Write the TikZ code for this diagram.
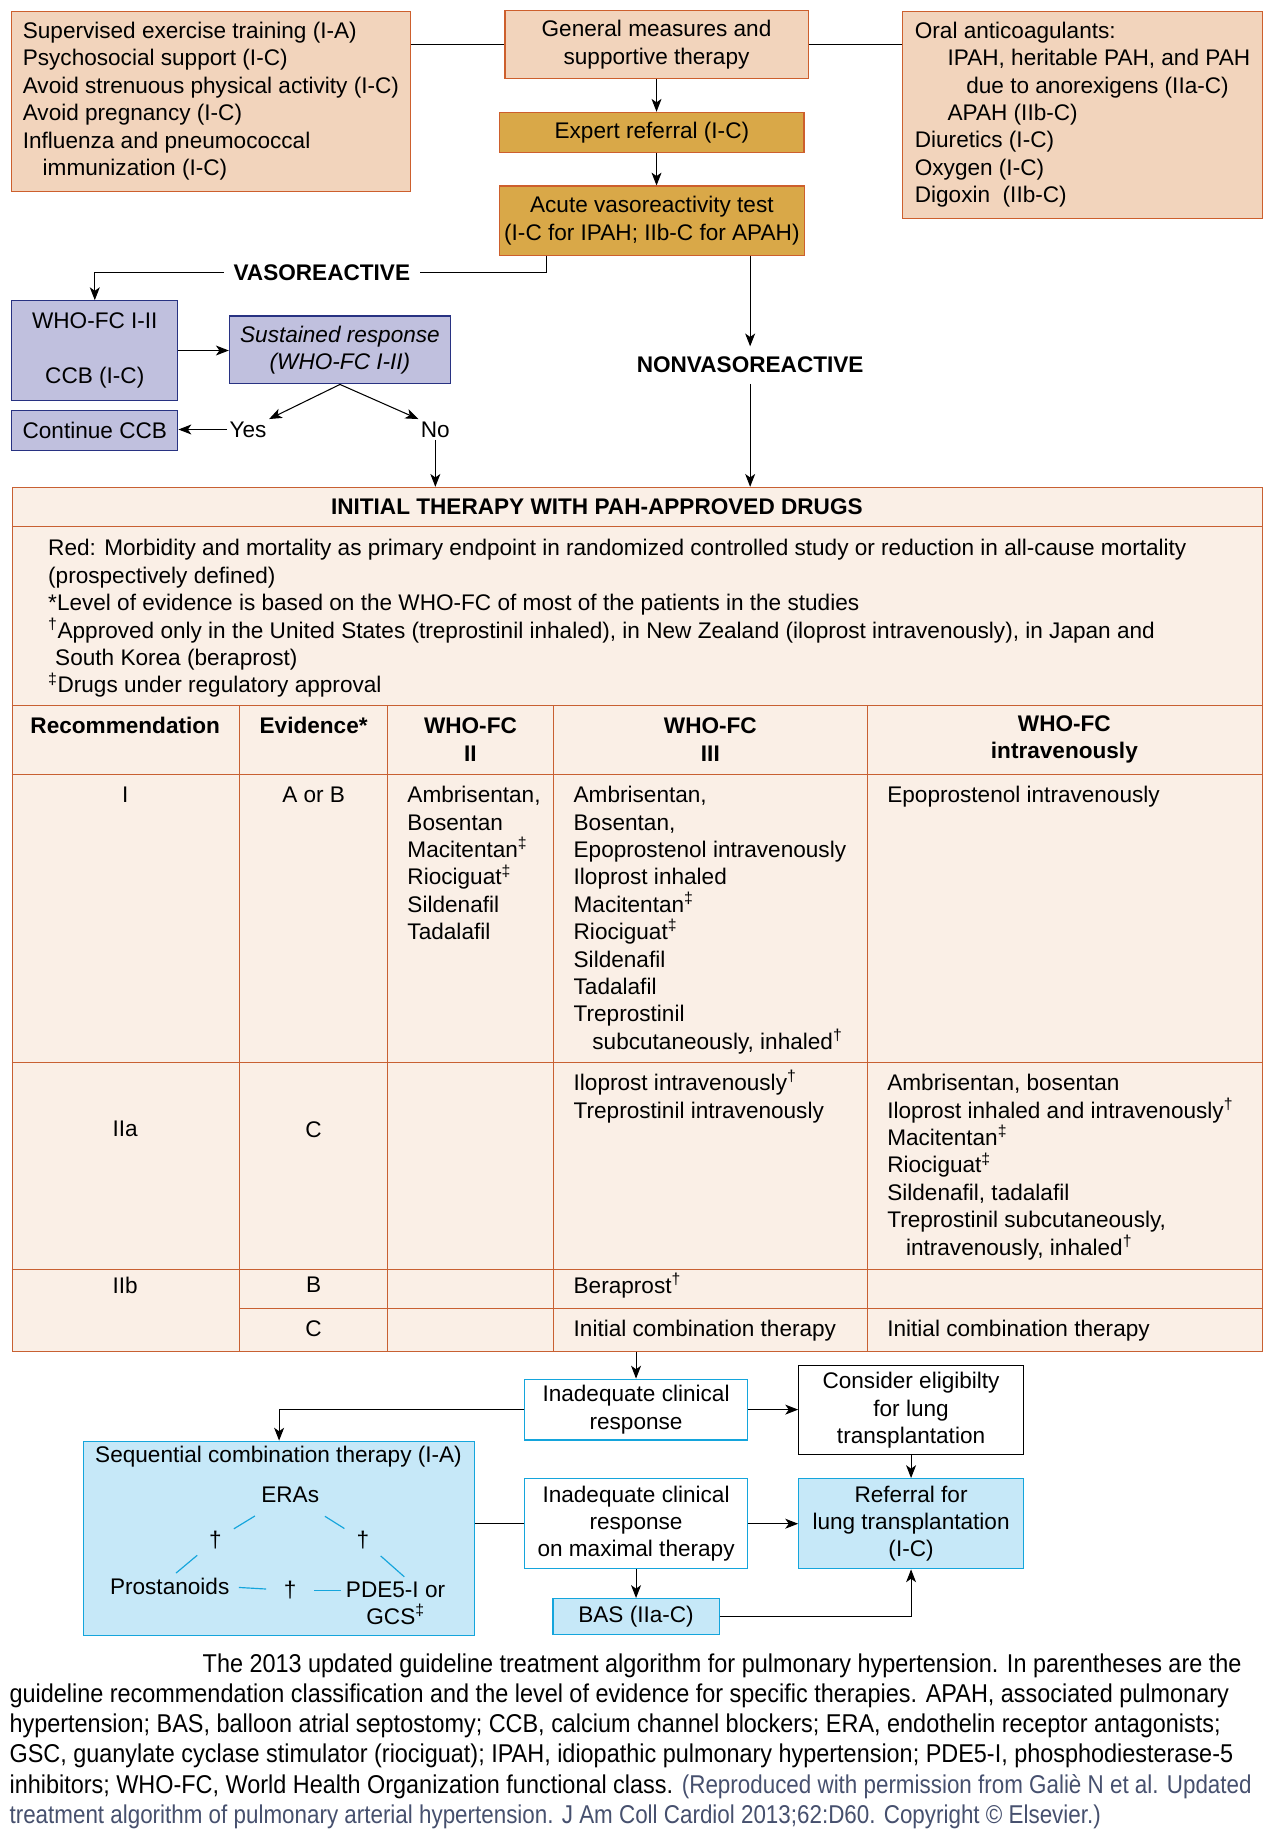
\documentclass[tikz,border=0pt]{standalone}
\usepackage{fontspec}
\setmainfont{Liberation Sans}
\newfontfamily\capfont{Liberation Sans}[FakeStretch=0.91]
\newfontfamily\notefont{Liberation Sans}[FakeStretch=0.87]
\usetikzlibrary{arrows.meta}

\begin{document}
\begin{tikzpicture}[x=1pt,y=-1pt]
  % Local definitions
  \def\bodysize{\fontsize{19.3}{23.4}\selectfont}
  \def\capsize{\capfont\fontsize{22}{25.8}\selectfont}

  % Colors
  \definecolor{peachfill}{RGB}{242,212,188}
  \definecolor{peachedge}{RGB}{205,95,45}
  \definecolor{goldfill}{RGB}{217,168,72}
  \definecolor{lavfill}{RGB}{192,192,222}
  \definecolor{lavedge}{RGB}{40,50,130}
  \definecolor{tablefill}{RGB}{250,239,230}
  \definecolor{tableedge}{RGB}{200,96,50}
  \definecolor{cyanedge}{RGB}{20,165,220}
  \definecolor{cyanfill}{RGB}{198,232,248}
  \definecolor{notecolor}{RGB}{70,80,110}

  % Styles
  \tikzstyle{every node}=[font=\bodysize,inner sep=0pt]
  \tikzstyle{panel}=[draw,line width=1pt,inner xsep=4pt,align=center]
  \tikzstyle{peach box}=[panel,draw=peachedge,fill=peachfill]
  \tikzstyle{gold box}=[panel,draw=peachedge,fill=goldfill]
  \tikzstyle{lav box}=[panel,draw=lavedge,fill=lavfill]
  \tikzstyle{cyan box}=[panel,draw=cyanedge,fill=white]
  \tikzstyle{cyan filled}=[panel,draw=cyanedge,fill=cyanfill]
  \tikzstyle{plain box}=[panel,draw=black,fill=white]
  \tikzstyle{branch}=[font=\bodysize\bfseries]
  \tikzstyle{head}=[font=\bodysize\bfseries,align=center]
  \tikzstyle{cell list}=[anchor=base west,align=left]
  \tikzstyle{connector}=[line width=0.9pt]
  \tikzstyle{flow arrow}=[connector,-{Stealth[length=11pt,width=8.5pt,inset=3pt]}]
  \tikzstyle{table rule}=[draw=tableedge,line width=1pt]
  \tikzstyle{tri line}=[draw=cyanedge,line width=1pt]

  % The graphic
  \fill[white] (0,0) rectangle (1089,1568);
  \useasboundingbox (0,0) rectangle (1089,1568);

  % top row
  \node[peach box,anchor=north west,inner xsep=10pt,align=left,
        minimum width=341pt,minimum height=154pt] (measures) at (9,9)
    {Supervised exercise training (I-A)\\
     Psychosocial support (I-C)\\
     Avoid strenuous physical activity (I-C)\\
     Avoid pregnancy (I-C)\\
     Influenza and pneumococcal\\
     \hspace*{17pt}immunization (I-C)};
  \node[peach box,minimum width=259pt,minimum height=58pt] (general) at (561,38)
    {General measures and\\supportive therapy};
  \node[peach box,anchor=north west,inner xsep=10pt,align=left,
        minimum width=307pt,minimum height=177pt] (oral) at (771,9)
    {Oral anticoagulants:\\
     \hspace*{28pt}IPAH, heritable PAH, and PAH\\
     \hspace*{44pt}due to anorexigens (IIa-C)\\
     \hspace*{28pt}APAH (IIb-C)\\
     Diuretics (I-C)\\
     Oxygen (I-C)\\
     Digoxin\ \ (IIb-C)};
  \node[gold box,minimum width=260pt,minimum height=34pt] (expert) at (557,113)
    {Expert referral (I-C)};
  \node[gold box,minimum width=260pt,minimum height=59pt] (acute) at (557,188.5)
    {Acute vasoreactivity test\\(I-C for IPAH; IIb-C for APAH)};

  \draw[connector] (measures.east |- general.west) -- (general.west);
  \draw[connector] (general.east) -- (general.east -| oral.west);
  \draw[flow arrow] (general.south) -- (general.south |- expert.north);
  \draw[flow arrow] (general.south |- expert.south) -- (general.south |- acute.north);

  % vasoreactive branch
  \node[branch,inner xsep=8pt] (vaso) at (275,233) {VASOREACTIVE};
  \node[lav box,minimum width=142pt,minimum height=85pt] (whofc) at (81,299.5)
    {WHO-FC I-II\\[23.4pt]CCB (I-C)};
  \node[lav box,font=\bodysize\itshape,minimum width=189pt,minimum height=58pt]
    (sustained) at (290.5,299) {Sustained response\\(WHO-FC I-II)};
  \node[inner sep=2pt] (yes) at (212,367) {Yes};
  \node[inner sep=2pt] (no) at (372,367) {No};
  \node[lav box,minimum width=142pt,minimum height=34pt] (ccb) at (81,368)
    {Continue CCB};

  \coordinate (acute-left) at ([xshift=41pt]acute.south west);
  \draw[connector] (acute-left) |- (vaso.east);
  \draw[flow arrow] (vaso.west) -| (whofc.north);
  \draw[flow arrow] (whofc.east) -- (whofc.east -| sustained.west);
  \draw[flow arrow] (sustained.south) -- (yes.north east);
  \draw[flow arrow] (sustained.south) -- (no.north west);
  \draw[flow arrow] (yes.west) -- (yes.west -| ccb.east);

  % nonvasoreactive branch
  \node[branch,inner ysep=9pt] (nonvaso) at (641,312) {NONVASOREACTIVE};
  \draw[flow arrow] (acute.south -| nonvaso.north) -- (nonvaso.north);

  % table
  \node[draw=tableedge,fill=tablefill,line width=1pt,anchor=north west,
        minimum width=1068pt,minimum height=738pt] (table) at (10,416) {};
  \draw[flow arrow] (nonvaso.south) -- (nonvaso.south |- table.north);
  \draw[flow arrow] (no.south) -- (no.south |- table.north);

  \foreach \y in {450,603,662,908,1085}
    \draw[table rule] (10,\y) -- (1078,\y);
  \draw[table rule] (205,1118) -- (1078,1118);
  \foreach \x in {205,331,473,741}
    \draw[table rule] (\x,603) -- (\x,1154);

  % (cell lists hang from the baseline of their last line)
  \node[head] (title) at (510,433) {INITIAL THERAPY WITH PAH-APPROVED DRUGS};
  \node[cell list] (notes) at (41,592)
    {Red: Morbidity and mortality as primary endpoint in randomized controlled study or reduction in all-cause mortality\\
     (prospectively defined)\\
     *Level of evidence is based on the WHO-FC of most of the patients in the studies\\
     \textsuperscript{†}Approved only in the United States (treprostinil inhaled), in New Zealand (iloprost intravenously), in Japan and\\
     \hspace*{6pt}South Korea (beraprost)\\
     \textsuperscript{‡}Drugs under regulatory approval};

  \node[head] (h-rec) at (107,620) {Recommendation};
  \node[head] (h-ev) at (268,620) {Evidence*};
  \node[head] (h-two) at (402,632) {WHO-FC\\II};
  \node[head] (h-three) at (607,632) {WHO-FC\\III};
  \node[head] (h-four) at (909.5,632) {WHO-FC\\intravenously};

  % row I
  \node (r1-rec) at (107,679) {I};
  \node (r1-ev) at (268,679) {A or B};
  \node[cell list] (r1-two) at (348,803)
    {Ambrisentan,\\Bosentan\\Macitentan\textsuperscript{‡}\\Riociguat\textsuperscript{‡}\\Sildenafil\\Tadalafil};
  \node[cell list] (r1-three) at (490,896.6)
    {Ambrisentan,\\Bosentan,\\Epoprostenol intravenously\\Iloprost inhaled\\
     Macitentan\textsuperscript{‡}\\Riociguat\textsuperscript{‡}\\Sildenafil\\Tadalafil\\
     Treprostinil\\\hspace*{16pt}subcutaneously, inhaled\textsuperscript{†}};
  \node[cell list] (r1-four) at (758,686) {Epoprostenol intravenously};

  % row IIa
  \node (r2-rec) at (107,965) {IIa};
  \node (r2-ev) at (268,965) {C};
  \node[cell list] (r2-three) at (490,955.4)
    {Iloprost intravenously\textsuperscript{†}\\Treprostinil intravenously};
  \node[cell list] (r2-four) at (758,1072.4)
    {Ambrisentan, bosentan\\Iloprost inhaled and intravenously\textsuperscript{†}\\
     Macitentan\textsuperscript{‡}\\Riociguat\textsuperscript{‡}\\Sildenafil, tadalafil\\
     Treprostinil subcutaneously,\\\hspace*{16pt}intravenously, inhaled\textsuperscript{†}};

  % row IIb
  \node (r3-rec) at (107,1098) {IIb};
  \node (r3-ev) at (268,1098) {B};
  \node[cell list] (r3-three) at (490,1105) {Beraprost\textsuperscript{†}};
  \node (r4-ev) at (268,1135) {C};
  \node[cell list] (r4-three) at (490,1142) {Initial combination therapy};
  \node[cell list] (r4-four) at (758,1142) {Initial combination therapy};

  % after initial therapy
  \node[cyan box,minimum width=190pt,minimum height=52pt] (inad1) at (543.5,1204.5)
    {Inadequate clinical\\response};
  \node[plain box,minimum width=192pt,minimum height=76pt] (consider) at (778.5,1205)
    {Consider eligibilty\\for lung\\transplantation};
  \node[cyan filled,anchor=north west,minimum width=334pt,minimum height=166pt]
    (seq) at (71,1231) {};
  \node (seq-title) at (238,1245) {Sequential combination therapy (I-A)};
  \node[cyan box,minimum width=190pt,minimum height=77pt] (inad2) at (543.5,1302)
    {Inadequate clinical\\response\\on maximal therapy};
  \node[cyan filled,minimum width=192pt,minimum height=77pt] (referral) at (778.5,1302)
    {Referral for\\lung transplantation\\(I-C)};
  \node[cyan filled,minimum width=142pt,minimum height=31pt] (bas) at (543.5,1381.5)
    {BAS (IIa-C)};

  \draw[flow arrow] (table.south -| inad1.north) -- (inad1.north);
  \draw[flow arrow] (inad1.east) -- (inad1.east -| consider.west);
  \draw[flow arrow] (inad1.west) -| (seq.north);
  \draw[connector] (inad2.west -| seq.east) -- (inad2.west);
  \draw[flow arrow] (inad2.east) -- (inad2.east -| referral.west);
  \draw[flow arrow] (consider.south) -- (referral.north);
  \draw[flow arrow] (inad2.south) -- (bas.north);
  \draw[flow arrow] (bas.east) -| (referral.south);

  % combination triangle
  \node (eras) at (248,1277) {ERAs};
  \node (dag1) at (184,1316) {†};
  \node (dag2) at (310,1316) {†};
  \node (prost) at (145,1356) {Prostanoids};
  \node (dag3) at (248,1359) {†};
  \node[align=center] (pde) at (338,1370) {PDE5-I or\\GCS\textsuperscript{‡}};

  \draw[tri line,shorten <=22pt,shorten >=12pt] (eras) -- (dag1);
  \draw[tri line,shorten <=13pt,shorten >=7pt] (dag1) -- (prost.north);
  \draw[tri line,shorten <=22pt,shorten >=12pt] (eras) -- (dag2);
  \draw[tri line,shorten <=13pt,shorten >=6pt] (dag2) -- ([xshift=12pt]pde.north);
  \draw[tri line,shorten <=8pt,shorten >=15pt] (prost.east) -- (dag3);
  \draw[tri line,shorten <=15pt,shorten >=4pt] (dag3) -- (dag3 -| pde.west);

  % caption
  \node[anchor=base west,align=left,font=\capsize] (caption) at (8,1558)
    {\hspace*{165pt}The 2013 updated guideline treatment algorithm for pulmonary hypertension. In parentheses are the\\
     guideline recommendation classification and the level of evidence for specific therapies. APAH, associated pulmonary\\
     hypertension; BAS, balloon atrial septostomy; CCB, calcium channel blockers; ERA, endothelin receptor antagonists;\\
     GSC, guanylate cyclase stimulator (riociguat); IPAH, idiopathic pulmonary hypertension; PDE5-I, phosphodiesterase-5\\
     inhibitors; WHO-FC, World Health Organization functional class. {\notefont\color{notecolor}(Reproduced with permission from Galiè N et al. Updated}\\
     {\notefont\color{notecolor}treatment algorithm of pulmonary arterial hypertension. J Am Coll Cardiol 2013;62:D60. Copyright © Elsevier.)}};
\end{tikzpicture}
\end{document}
